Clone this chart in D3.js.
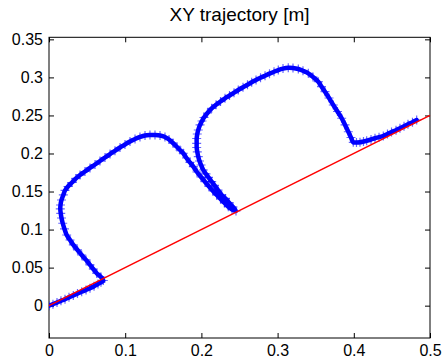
<!DOCTYPE html>
<html>
<head>
<meta charset="utf-8">
<script src="https://cdn.jsdelivr.net/npm/d3@7"></script>
<style>
  body { margin: 0; background: #fff; }
  svg { display: block; font-family: "Liberation Sans", Arial, Helvetica, sans-serif; }
  .axis path { display: none; }
  .axis line { stroke: #000; }
  .axis text { font-size: 16px; fill: #000; }
</style>
</head>
<body>
<div id="chart"></div>
<script>
// trajectory [m]
const trajX = [
  0, 0.0052, 0.0105, 0.0157, 0.0210, 0.0262, 0.0319, 0.0374, 0.0429, 0.0486, 0.0538, 0.0591, 0.0643, 0.0682, 0.0713,
  0.0682, 0.0626, 0.0581, 0.0538, 0.0486, 0.0429, 0.0374, 0.0319, 0.0276, 0.0232, 0.0203, 0.0180, 0.0164, 0.0154, 0.0148, 0.0151, 0.0164,
  0.0188, 0.0210, 0.0249, 0.0302, 0.0354, 0.0407, 0.0472, 0.0538, 0.0604, 0.0669, 0.0735, 0.0801, 0.0866, 0.0932, 0.0997, 0.1063,
  0.1129, 0.1194, 0.1260, 0.1325, 0.1391, 0.1457, 0.1522, 0.1575, 0.1627, 0.1680, 0.1719, 0.1762, 0.1804, 0.1850, 0.1894, 0.1942,
  0.1995, 0.2047, 0.2100, 0.2152, 0.2201, 0.2251, 0.2303, 0.2353, 0.2402, 0.2454,
  0.2415, 0.2362, 0.2316, 0.2266, 0.2218, 0.2172, 0.2135, 0.2093, 0.2060, 0.2025, 0.1995, 0.1975, 0.1959, 0.1946, 0.1938, 0.1938,
  0.1938, 0.1946, 0.1959, 0.1982, 0.2008, 0.2034, 0.2080, 0.2135, 0.2192, 0.2251, 0.2310, 0.2369, 0.2428, 0.2484, 0.2546, 0.2605,
  0.2660, 0.2717, 0.2776, 0.2835, 0.2894, 0.2953, 0.3009, 0.3071, 0.3140, 0.3202, 0.3272, 0.3333, 0.3403, 0.3465, 0.3534, 0.3576,
  0.3622, 0.3675, 0.3731, 0.3786, 0.3841, 0.3885, 0.3928, 0.3963, 0.3993, 0.4035, 0.4081, 0.4127, 0.4169, 0.4226, 0.4278, 0.4331,
  0.4387, 0.4442, 0.4495, 0.4554, 0.4606, 0.4659, 0.4711, 0.4770, 0.4825
];
const trajY = [
  0, 0.0020, 0.0041, 0.0063, 0.0085, 0.0109, 0.0135, 0.0159, 0.0183, 0.0206, 0.0229, 0.0255, 0.0285, 0.0309, 0.0331,
  0.0377, 0.0426, 0.0482, 0.0535, 0.0601, 0.0666, 0.0732, 0.0798, 0.0863, 0.0929, 0.1008, 0.1083, 0.1152, 0.1214, 0.1271, 0.1323, 0.1389,
  0.1455, 0.1514, 0.1566, 0.1619, 0.1672, 0.1718, 0.1763, 0.1810, 0.1855, 0.1901, 0.1947, 0.1993, 0.2035, 0.2079, 0.2118, 0.2158,
  0.2191, 0.2217, 0.2237, 0.2243, 0.2243, 0.2237, 0.2217, 0.2184, 0.2138, 0.2085, 0.2046, 0.2003, 0.1941, 0.1882, 0.1827, 0.1757,
  0.1691, 0.1629, 0.1566, 0.1507, 0.1455, 0.1402, 0.1350, 0.1301, 0.1264, 0.1244,
  0.1297, 0.1356, 0.1409, 0.1455, 0.1520, 0.1580, 0.1629, 0.1685, 0.1731, 0.1783, 0.1849, 0.1901, 0.1958, 0.2020, 0.2079, 0.2134,
  0.2197, 0.2256, 0.2309, 0.2375, 0.2427, 0.2473, 0.2532, 0.2594, 0.2640, 0.2683, 0.2725, 0.2762, 0.2799, 0.2834, 0.2870, 0.2903,
  0.2936, 0.2966, 0.2995, 0.3022, 0.3049, 0.3074, 0.3097, 0.3116, 0.3127, 0.3124, 0.3110, 0.3087, 0.3054, 0.3005, 0.2944, 0.2880,
  0.2812, 0.2729, 0.2637, 0.2552, 0.2463, 0.2375, 0.2286, 0.2210, 0.2147, 0.2145, 0.2147, 0.2158, 0.2168, 0.2184, 0.2200, 0.2214,
  0.2230, 0.2256, 0.2283, 0.2306, 0.2331, 0.2357, 0.2384, 0.2411, 0.2440
];

// reference line
const refX = [0, 0.5];
const refY = [0, 0.25];

const xTicks = [0, 0.1, 0.2, 0.3, 0.4, 0.5];
const xTickLabels = ["0", "0.1", "0.2", "0.3", "0.4", "0.5"];
const yTicks = [0, 0.05, 0.1, 0.15, 0.2, 0.25, 0.3, 0.35];
const yTickLabels = ["0", "0.05", "0.1", "0.15", "0.2", "0.25", "0.3", "0.35"];

const W = 445, H = 362;
const margin = { top: 37.3, right: 15, bottom: 24, left: 49 },
      width = W - margin.left - margin.right,
      height = H - margin.top - margin.bottom;

const svg = d3.select("#chart")
    .append("svg")
    .attr("width", W)
    .attr("height", H);

const g = svg.append("g")
    .attr("transform", `translate(${margin.left},${margin.top})`);

const x = d3.scaleLinear().domain([0, 0.5]).range([0, width]);
const y = d3.scaleLinear().domain([-0.0425, 0.3527]).range([height, 0]);

// axes, ticks pointing inward
g.append("g")
    .attr("class", "axis")
    .attr("transform", `translate(0,${height})`)
    .call(d3.axisBottom(x).tickValues(xTicks).tickFormat((d, i) => xTickLabels[i])
        .tickSizeInner(-5).tickSizeOuter(0).tickPadding(7));

g.append("g")
    .attr("class", "axis")
    .call(d3.axisLeft(y).tickValues(yTicks).tickFormat((d, i) => yTickLabels[i])
        .tickSizeInner(-5).tickSizeOuter(0).tickPadding(6));

g.append("g")
    .attr("class", "axis")
    .call(d3.axisTop(x).tickValues(xTicks).tickFormat("").tickSizeInner(-5).tickSizeOuter(0));

g.append("g")
    .attr("class", "axis")
    .attr("transform", `translate(${width},0)`)
    .call(d3.axisRight(y).tickValues(yTicks).tickFormat("").tickSizeInner(-5).tickSizeOuter(0));

// box
g.append("rect")
    .attr("width", width)
    .attr("height", height)
    .attr("fill", "none")
    .attr("stroke", "#000")
    .attr("stroke-width", 1);

g.append("clipPath").attr("id", "clip")
    .append("rect").attr("width", width).attr("height", height);

const pts = trajX.map((v, i) => ({ x: v, y: trajY[i] }));
const plot = g.append("g").attr("clip-path", "url(#clip)");

// core through the samples so the dense marker band reads as solid
plot.append("path")
    .datum(pts)
    .attr("d", d3.line().x(d => x(d.x)).y(d => y(d.y)).curve(d3.curveCatmullRom))
    .attr("stroke", "#0000ff")
    .attr("stroke-width", 4.5)
    .attr("stroke-linejoin", "round")
    .attr("stroke-linecap", "round")
    .attr("fill", "none");

// trajectory markers '+'
plot.selectAll("path.mk")
    .data(pts)
    .join("path")
    .attr("class", "mk")
    .attr("transform", d => `translate(${x(d.x)},${y(d.y)})`)
    .attr("d", "M-4.5,0H4.5M0,-4.5V4.5")
    .attr("stroke", "#0000ff")
    .attr("stroke-opacity", 0.6)
    .attr("stroke-width", 1.2)
    .attr("fill", "none");

// red line
const line = d3.line().x(d => x(d[0])).y(d => y(d[1]));
g.append("path")
    .datum(refX.map((v, i) => [v, refY[i]]))
    .attr("d", line)
    .attr("stroke", "#ff0000")
    .attr("stroke-width", 1.5)
    .attr("fill", "none");

// title
svg.append("text")
    .attr("x", margin.left + width / 2)
    .attr("y", 21)
    .attr("text-anchor", "middle")
    .style("font-size", "19px")
    .text("XY trajectory [m]");
</script>
</body>
</html>
